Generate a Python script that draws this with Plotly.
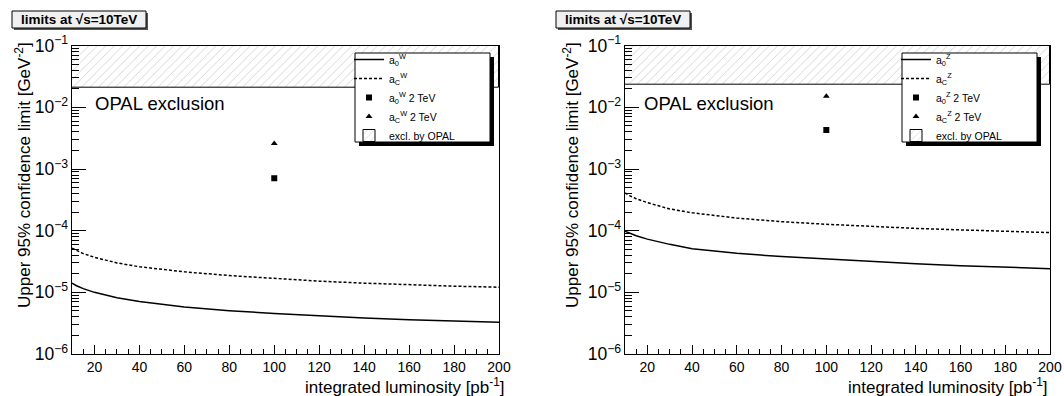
import plotly.graph_objects as go

# ---------------- data ----------------
lumi = [10, 12, 15, 20, 30, 40, 60, 80, 100, 120, 140, 160, 180, 200]

# W panel
w_a0 = [1.41e-5, 1.28e-5, 1.15e-5, 1.0e-5, 8.2e-6, 7.1e-6, 5.8e-6, 5.05e-6, 4.55e-6, 4.15e-6, 3.85e-6, 3.6e-6, 3.4e-6, 3.28e-6]
w_ac = [5.2e-5, 4.75e-5, 4.25e-5, 3.7e-5, 3.0e-5, 2.6e-5, 2.15e-5, 1.87e-5, 1.67e-5, 1.52e-5, 1.41e-5, 1.32e-5, 1.26e-5, 1.21e-5]
w_pt_x = [100]
w_pt_a0 = [7.1e-4]
w_pt_ac = [2.6e-3]
w_opal = 0.0205

# Z panel
z_a0 = [9.8e-5, 9.1e-5, 8.3e-5, 7.3e-5, 6.0e-5, 5.1e-5, 4.3e-5, 3.8e-5, 3.45e-5, 3.15e-5, 2.9e-5, 2.7e-5, 2.55e-5, 2.42e-5]
z_ac = [4.1e-4, 3.7e-4, 3.3e-4, 2.85e-4, 2.25e-4, 1.95e-4, 1.6e-4, 1.4e-4, 1.27e-4, 1.17e-4, 1.09e-4, 1.03e-4, 0.98e-4, 0.93e-4]
z_pt_x = [100]
z_pt_a0 = [4.3e-3]
z_pt_ac = [1.52e-2]
z_opal = 0.0233

x_range = [10, 200]
y_top = 0.1

FONT = "Liberation Sans, Arial, Helvetica, sans-serif"

fig = go.Figure()


def add_panel(xa, ya, leg, boson, a0, ac, px, pa0, pac, opal):
    # hatched exclusion region (bar from OPAL limit up to the top of the frame)
    fig.add_trace(go.Bar(
        x=[(x_range[0] + x_range[1]) / 2], y=[y_top - opal], base=[opal],
        width=[x_range[1] - x_range[0]],
        marker=dict(color="white", line=dict(color="black", width=1),
                    pattern=dict(shape="/", fgcolor="#8c8c8c", bgcolor="white", size=6, solidity=0.12)),
        name="excl. by OPAL", legend=leg, legendrank=5, hoverinfo="skip",
        xaxis=xa, yaxis=ya))
    fig.add_trace(go.Scatter(
        x=lumi, y=a0, mode="lines", line=dict(color="black", width=1.5),
        name=f"a<sub>0</sub><sup>{boson}</sup>", legend=leg, legendrank=1,
        xaxis=xa, yaxis=ya))
    fig.add_trace(go.Scatter(
        x=lumi, y=ac, mode="lines", line=dict(color="black", width=1.5, dash="3px,2px"),
        name=f"a<sub>C</sub><sup>{boson}</sup>", legend=leg, legendrank=2,
        xaxis=xa, yaxis=ya))
    fig.add_trace(go.Scatter(
        x=px, y=pa0, mode="markers", marker=dict(symbol="square", size=6, color="black"),
        name=f"a<sub>0</sub><sup>{boson}</sup> 2 TeV", legend=leg, legendrank=3,
        xaxis=xa, yaxis=ya))
    fig.add_trace(go.Scatter(
        x=px, y=pac, mode="markers", marker=dict(symbol="triangle-up", size=6, color="black"),
        name=f"a<sub>C</sub><sup>{boson}</sup> 2 TeV", legend=leg, legendrank=4,
        xaxis=xa, yaxis=ya))


add_panel("x", "y", "legend", "W", w_a0, w_ac, w_pt_x, w_pt_a0, w_pt_ac, w_opal)
add_panel("x2", "y2", "legend2", "Z", z_a0, z_ac, z_pt_x, z_pt_a0, z_pt_ac, z_opal)

W, H = 1064, 396
ydom = [1 - 354 / H, 1 - 45.7 / H]
xdom1 = [72 / W, 499 / W]
xdom2 = [625 / W, 1050 / W]

xaxis_common = dict(
    range=x_range, tick0=0, dtick=20, ticks="inside", ticklen=9, tickwidth=1, tickcolor="black",
    showline=True, linecolor="black", linewidth=1, mirror=True, showgrid=False, zeroline=False,
    automargin=False,
    tickfont=dict(size=14, family=FONT, color="black"),
    minor=dict(dtick=5, tick0=0, ticks="inside", ticklen=5, tickcolor="black", showgrid=False),
)
yaxis_common = dict(
    type="log", range=[-6, -1], dtick=1, exponentformat="power", ticks="inside", ticklen=14,
    tickwidth=1, tickcolor="black", automargin=False,
    showline=True, linecolor="black", linewidth=1, mirror=True, showgrid=False, zeroline=False,
    tickfont=dict(size=14, family=FONT, color="black"),
    minor=dict(dtick="D1", ticks="inside", ticklen=7, tickcolor="black", showgrid=False),
)

legend_common = dict(
    bgcolor="rgba(0,0,0,0)", borderwidth=0,
    font=dict(size=10.5, family=FONT, color="black"),
    xanchor="left", yanchor="top", tracegroupgap=0, itemwidth=30,
)

fig.update_layout(
    width=W, height=H,
    margin=dict(l=0, r=0, t=0, b=0, autoexpand=False),
    paper_bgcolor="white", plot_bgcolor="white",
    font=dict(family=FONT, color="black"),
    showlegend=True,
    bargap=0,
    xaxis=dict(domain=xdom1, anchor="y", **xaxis_common),
    yaxis=dict(domain=ydom, anchor="x", **yaxis_common),
    xaxis2=dict(domain=xdom2, anchor="y2", **xaxis_common),
    yaxis2=dict(domain=ydom, anchor="x2", **yaxis_common),
    legend=dict(x=349 / W, y=1 - 45 / H, **legend_common),
    legend2=dict(x=896 / W, y=1 - 45 / H, **legend_common),
)

annotations = []
shapes = []


def rect(x0, y0, x1, y1, fill, line_w=0, layer="above"):
    shapes.append(dict(type="rect", xref="paper", yref="paper",
                       x0=x0 / W, x1=x1 / W, y0=1 - y1 / H, y1=1 - y0 / H,
                       fillcolor=fill, line=dict(color="black", width=line_w), layer=layer))


for off, ytx, xtr in [(0, 23, 507), (544, 571, 1050)]:
    # title box with shadow
    rect(14 + off, 13, 148 + off, 30, "#555555")
    rect(12 + off, 11, 146 + off, 28, "#f0f0f0", 1)
    annotations.append(dict(
        xref="paper", yref="paper", x=(79 + off) / W, y=1 - 19.5 / H, xanchor="center", yanchor="middle",
        text="<b>limits at √s=10TeV</b>", showarrow=False,
        font=dict(size=13.5, family=FONT, color="black")))
    # axis titles
    annotations.append(dict(
        xref="paper", yref="paper", x=ytx / W, y=1 - 40 / H, xanchor="center", yanchor="top",
        text="Upper 95% confidence limit [GeV<sup>-2</sup>]", textangle=-90, showarrow=False,
        font=dict(size=17, family=FONT, color="black")))
    annotations.append(dict(
        xref="paper", yref="paper", x=xtr / W, y=1 - 386 / H, xanchor="right", yanchor="middle",
        text="integrated luminosity [pb<sup>-1</sup>]", showarrow=False,
        font=dict(size=17, family=FONT, color="black")))

# OPAL exclusion labels
annotations.append(dict(xref="paper", yref="paper", x=93 / W, y=1 - 103 / H, xanchor="left", yanchor="middle",
                        text="OPAL exclusion", showarrow=False, font=dict(size=18.5, family=FONT, color="black")))
annotations.append(dict(xref="paper", yref="paper", x=642 / W, y=1 - 103 / H, xanchor="left", yanchor="middle",
                        text="OPAL exclusion", showarrow=False, font=dict(size=18.5, family=FONT, color="black")))

# legend boxes with shadows
for lx in [355, 902]:
    rect(lx + 4, 57, lx + 139, 146, "black")
    rect(lx, 53, lx + 135, 142, "white", 1)

fig.update_layout(annotations=annotations, shapes=shapes)
fig.write_html(
    "out.html",
    config={"displayModeBar": False},
    post_script="document.body.style.margin='0';document.body.style.padding='0';"
                "document.body.style.overflow='hidden';",
)
